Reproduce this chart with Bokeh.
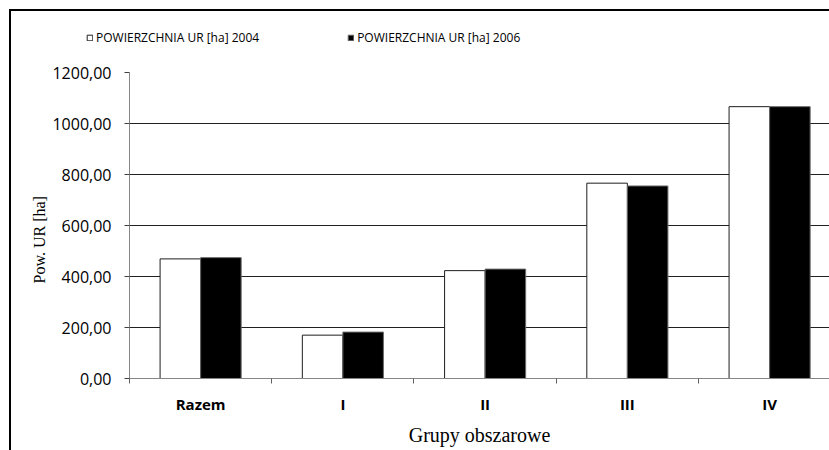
import numpy as np
from bokeh.plotting import figure
from bokeh.layouts import column
from bokeh.models import Range1d, FixedTicker, Legend, LegendItem, ColumnDataSource, Title
from bokeh.embed import file_html
from bokeh.resources import INLINE

# ---- data ----
categories = ["Razem", "I", "II", "III", "IV"]
area_2004 = [469, 170, 423, 766, 1066]
area_2006 = [474, 182, 429, 755, 1066]
series_names = ["POWIERZCHNIA UR [ha] 2004", "POWIERZCHNIA UR [ha] 2006"]
y_ticks = [0, 200, 400, 600, 800, 1000, 1200]
y_tick_labels = ["0,00", "200,00", "400,00", "600,00", "800,00", "1000,00", "1200,00"]
x_title = "Grupy obszarowe"
y_title = "Pow. UR [ha]"

SANS = "Open Sans"
SERIF = "Liberation Serif"

centers = np.arange(len(categories)) + 0.5
bar_w = 0.285
off = 0.1425

fill_colors = ["white", "black"]
line_colors = ["#1e1e1e", "#6a6a6a"]

src = ColumnDataSource(dict(x04=centers - off, x06=centers + off,
                            v04=area_2004, v06=area_2006))

# ---- legend strip (top of the chart area) ----
top_bg = ("linear-gradient(#000, #000) 9px 9px / 2px 100% no-repeat, "
          "linear-gradient(#000, #000) 9px 9px / 100% 2px no-repeat")
pt = figure(width=829, height=60, output_backend="svg", toolbar_location=None,
            x_axis_type=None, y_axis_type=None,
            x_range=Range1d(-30, -29), y_range=Range1d(-30, -29),
            min_border_left=0, min_border_right=0, min_border_top=0, min_border_bottom=0,
            styles={"background": top_bg})
pt.frame_align = False
pt.outline_line_color = None
pt.background_fill_alpha = 0
pt.border_fill_alpha = 0
pt.xgrid.visible = False
pt.ygrid.visible = False
# legend keys: same bar series, kept out of this strip's visible range
l04 = pt.vbar(x="x04", top="v04", width=bar_w, source=src,
              fill_color=fill_colors[0], line_color=line_colors[0], line_width=1)
l06 = pt.vbar(x="x06", top="v06", width=bar_w, source=src,
              fill_color=fill_colors[1], line_color=line_colors[1], line_width=1)
legend = Legend(items=[LegendItem(label=series_names[0], renderers=[l04]),
                       LegendItem(label=series_names[1], renderers=[l06])],
                orientation="horizontal", location=(86, 13),
                glyph_width=7, glyph_height=7, label_standoff=3, spacing=88,
                padding=0, margin=0, border_line_color=None,
                background_fill_alpha=0, label_height=20,
                label_text_font=SANS, label_text_font_size="12px",
                label_text_color="black")
pt.add_layout(legend)

# ---- main plot ----
main_bg = "linear-gradient(#000, #000) 9px 0 / 2px 100% no-repeat"
p = figure(width=829, height=390, output_backend="svg", toolbar_location=None,
           x_range=Range1d(0, 4.921), y_range=Range1d(0, 1200),
           min_border_left=129, min_border_right=0, min_border_top=12, min_border_bottom=72,
           styles={"background": main_bg})
p.frame_align = False
p.outline_line_color = None
p.background_fill_color = "white"
p.border_fill_alpha = 0

p.vbar(x="x04", top="v04", width=bar_w, bottom=0, source=src,
       fill_color=fill_colors[0], line_color=line_colors[0], line_width=1)
p.vbar(x="x06", top="v06", width=bar_w, bottom=0, source=src,
       fill_color=fill_colors[1], line_color=line_colors[1], line_width=1)

# grid
p.xgrid.grid_line_color = None
p.ygrid.ticker = FixedTicker(ticks=y_ticks)
p.ygrid.grid_line_color = "#202020"
p.ygrid.grid_line_width = 1
p.ygrid.level = "underlay"

# y axis
ya = p.yaxis[0]
ya.ticker = FixedTicker(ticks=y_ticks)
ya.major_label_overrides = {t: l for t, l in zip(y_ticks, y_tick_labels)}
ya.axis_line_color = "#868686"
ya.major_tick_line_color = "#404040"
ya.major_tick_out = 5
ya.major_tick_in = 0
ya.minor_tick_line_color = None
ya.major_label_standoff = 13
ya.major_label_text_font = SANS
ya.major_label_text_font_size = "16px"
ya.major_label_text_color = "black"

# y axis title (slightly below the frame centre, as in the reference)
p.add_layout(Title(text=y_title, align="left", offset=95, standoff=4,
                   text_font=SERIF, text_font_style="normal", text_font_size="16px",
                   text_color="black"), "left")

# x axis
xa = p.xaxis[0]
xa.ticker = FixedTicker(ticks=list(centers), minor_ticks=list(range(len(categories))))
xa.major_label_overrides = {float(c): n for c, n in zip(centers, categories)}
xa.axis_line_color = "#868686"
xa.major_tick_line_color = None
xa.major_tick_out = 0
xa.major_tick_in = 0
xa.minor_tick_line_color = "#606060"
xa.minor_tick_out = 5
xa.minor_tick_in = 0
xa.major_label_standoff = 10
xa.major_label_text_font = SANS
xa.major_label_text_font_style = "bold"
xa.major_label_text_font_size = "15px"
xa.major_label_text_color = "black"
xa.axis_label = x_title
xa.axis_label_text_font = SERIF
xa.axis_label_text_font_style = "normal"
xa.axis_label_text_font_size = "20px"
xa.axis_label_text_color = "black"
xa.axis_label_standoff = 7

layout = column(pt, p, spacing=0)
open("out.html", "w").write(file_html(layout, INLINE))
